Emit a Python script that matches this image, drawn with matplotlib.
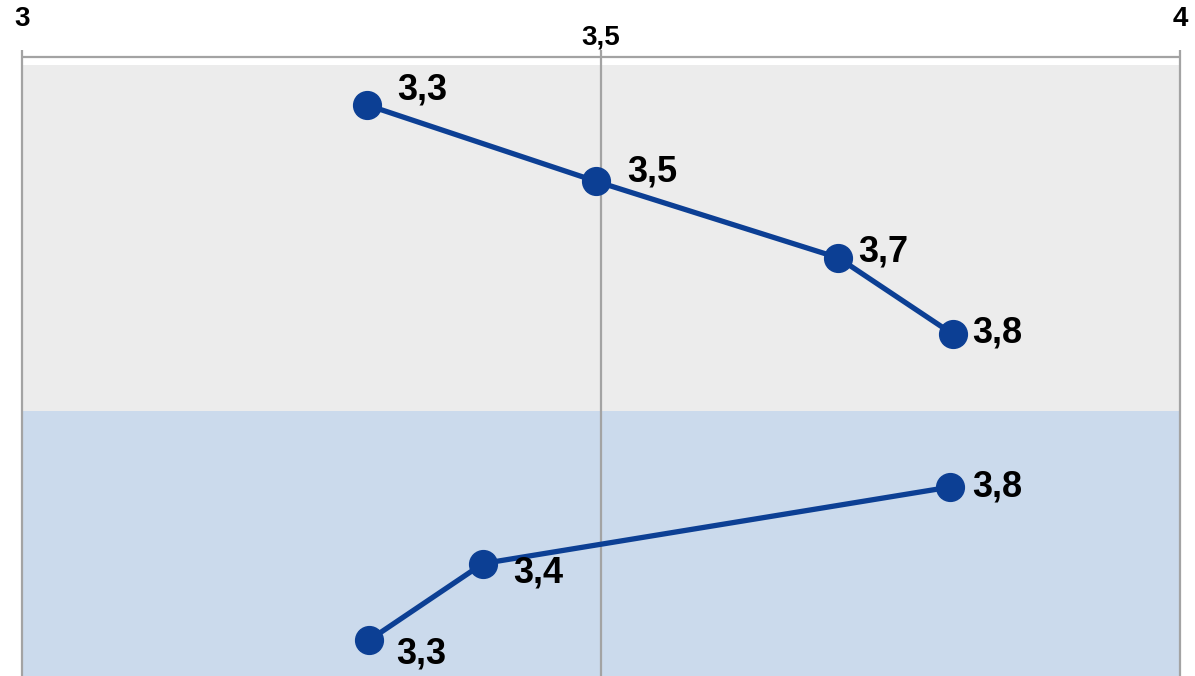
import matplotlib.pyplot as plt

plt.rcParams['font.family'] = ['Liberation Sans', 'DejaVu Sans']

# two groups of scores, one line per group
top_rows = [0, 1, 2, 3]
top_values = [3.298, 3.496, 3.705, 3.804]
bottom_rows = [5, 6, 7]
bottom_values = [3.801, 3.398, 3.300]

tick_values = [3, 3.5, 4]
tick_labels = ['3', '3,5', '4']

# label offsets (points) for each dot
top_offsets = [(22, 11), (22, 7), (14, 4), (14, 1)]
bottom_offsets = [(16, 0), (22, -7), (19, -10)]

line_color = '#0c3f94'
grid_color = '#a3a3a3'


def fmt(v):
    return f'{v:.1f}'.replace('.', ',')


fig = plt.figure(figsize=(11.95, 6.76), dpi=100)
ax = fig.add_axes([0, 0, 1, 1])

px_per_unit = 1158
ax.set_xlim(3 - 22 / px_per_unit, 4 + 15 / px_per_unit)
ax.set_ylim(7.471, -1.374)
ax.axis('off')

# background bands, only between the outer gridlines
ax.fill_between([3, 4], -0.52, 4.0, color='#ececec', zorder=0, lw=0)
ax.fill_between([3, 4], 4.0, 7.6, color='#cbdaec', zorder=0, lw=0)

# axis line and gridlines
ax.plot([3, 4], [-0.63, -0.63], color=grid_color, lw=1.6, zorder=1,
        solid_capstyle='butt')
for t in tick_values:
    ax.plot([t, t], [-0.72, 7.6], color=grid_color, lw=1.6, zorder=1,
            solid_capstyle='butt')

# tick labels, alternating heights
for i, (t, lab) in enumerate(zip(tick_values, tick_labels)):
    y = -1.12 if i % 2 == 0 else -0.88
    ax.text(t, y, lab, ha='center', va='center', fontsize=20,
            fontweight='bold', color='black')

for rows, vals, offs in [(top_rows, top_values, top_offsets),
                         (bottom_rows, bottom_values, bottom_offsets)]:
    ax.plot(vals, rows, color=line_color, lw=3.8, marker='o', markersize=20,
            zorder=3)
    for r, v, (dx, dy) in zip(rows, vals, offs):
        ax.annotate(fmt(v), (v, r), xytext=(dx, dy), textcoords='offset points',
                    ha='left', va='center', fontsize=26, fontweight='bold',
                    color='black', zorder=4)

fig.savefig('out.png', dpi=100)
